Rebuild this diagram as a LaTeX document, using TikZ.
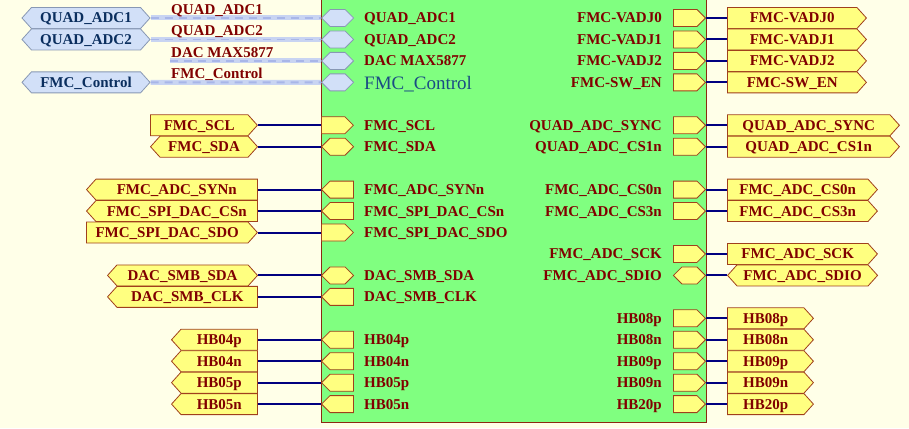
\documentclass[tikz,border=0pt]{standalone}
\usepackage{fontspec}
\setmainfont{Liberation Serif}
\usetikzlibrary{shapes.symbols}
\definecolor{bg}{HTML}{FFFFE8}
\definecolor{blockgreen}{HTML}{80FF80}
\definecolor{blockedge}{HTML}{8B2A10}
\definecolor{portfill}{HTML}{FFFF80}
\definecolor{portedge}{HTML}{A0401C}
\definecolor{txtred}{HTML}{800000}
\definecolor{wireblue}{HTML}{000080}
\definecolor{busfill}{HTML}{D2E0F8}
\definecolor{busedge}{HTML}{8898B4}
\definecolor{bustext}{HTML}{0A2E5E}
\definecolor{busAc}{HTML}{C8D4F2}
\definecolor{busBc}{HTML}{A8B6E8}
\definecolor{ctrlblue}{HTML}{1A4C84}
\tikzset{
  lbl/.style={font=\bfseries\fontsize{15}{15}\selectfont, text=txtred, inner sep=0pt},
  portbase/.style={shape=signal, draw=portedge, fill=portfill, line width=0.8pt,
    inner sep=0pt, minimum height=21pt, signal pointer angle=96, lbl,
    text height=10pt, text depth=0pt},
  portE/.style={portbase, signal to=east},
  portW/.style={portbase, signal to=west},
  portH/.style={portbase, signal to=east and west},
  tabbase/.style={shape=signal, draw=portedge, fill=portfill, line width=0.8pt,
    inner sep=0pt, minimum height=17pt, minimum width=32pt, signal pointer angle=90},
  tabE/.style={tabbase, signal to=east},
  tabW/.style={tabbase, signal to=west},
  tabH/.style={tabbase, signal to=east and west},
  busport/.style={shape=signal, signal to=east and west, draw=busedge, fill=busfill,
    line width=0.8pt, inner sep=0pt, minimum height=21pt, minimum width=128pt,
    signal pointer angle=96, font=\bfseries\fontsize{15}{15}\selectfont, text=bustext,
    text height=10pt, text depth=0pt},
  bustab/.style={shape=signal, signal to=east and west, draw=busedge, fill=busfill,
    line width=0.8pt, inner sep=0pt, minimum height=17pt, minimum width=32pt,
    signal pointer angle=90},
  wire/.style={draw=wireblue, line width=2pt},
  busA/.style={draw=busAc, line width=5pt},
  busB/.style={draw=busBc, line width=1.8pt, dash pattern=on 8pt off 6pt},
}
\newcommand\lrow[6]{%
  \node[#3, minimum width={257-#4}, anchor=west] (p#1) at (#4,{18+21.45*#2}) {#6};
  \node[#5, anchor=west] (t#1) at (321,{18+21.45*#2}) {};
  \draw[wire] (p#1.east) -- (t#1.west);
  \node[lbl, anchor=base west] (l#1) at (364,{23+21.45*#2}) {#6};
}
\newcommand\rrow[6]{%
  \node[#3, anchor=east] (t#1) at (706,{18+21.45*#2}) {};
  \node[#4, minimum width={#5-727}, anchor=west] (p#1) at (727,{18+21.45*#2}) {#6};
  \draw[wire] (t#1.east) -- (p#1.west);
  \node[lbl, anchor=base east] (l#1) at (662,{23+21.45*#2}) {#6};
}
\newcommand\busrow[4]{%
  \node[bustab, anchor=west] (t#1) at (321,{18+21.45*#2}) {};
  \draw[busA] (#3) -- (t#1.west);
  \draw[busB] (#3) -- (t#1.west);
  \node[lbl, anchor=base west] (bl#1) at (171,{14.5+21.45*#2}) {#4};
}
\begin{document}
\begin{tikzpicture}[x=1pt, y=-1pt]
  \useasboundingbox (0,0) rectangle (909,428);
  \clip (0,0) rectangle (909,428);
  \fill[bg] (0,0) rectangle (909,428);
  % block
  \node[draw=blockedge, fill=blockgreen, line width=1.4pt, inner sep=0pt,
        minimum width=385pt, minimum height=440pt, anchor=south west] (blk) at (321,423) {};
  % bus ports
  \node[busport] (bp0) at (86,18) {QUAD\_ADC1};
  \node[busport] (bp1) at (86,39.45) {QUAD\_ADC2};
  \coordinate (dacstart) at (170,60.9);
  \node[busport] (bp3) at (86,82.35) {FMC\_Control};
  \busrow{b0}{0}{bp0.east}{QUAD\_ADC1}
  \busrow{b1}{1}{bp1.east}{QUAD\_ADC2}
  \busrow{b2}{2}{dacstart}{DAC MAX5877}
  \busrow{b3}{3}{bp3.east}{FMC\_Control}
  \node[lbl, anchor=base west] (lb0) at (364,23) {QUAD\_ADC1};
  \node[lbl, anchor=base west] (lb1) at (364,44.45) {QUAD\_ADC2};
  \node[lbl, anchor=base west] (lb2) at (364,65.9) {DAC MAX5877};
  \node[anchor=base west, inner sep=0pt, font=\fontsize{19}{19}\selectfont, text=ctrlblue] (lb3) at (364,89) {FMC\_Control};
  % left rows
  \lrow{scl}{5}{portE}{150}{tabE}{FMC\_SCL}
  \lrow{sda}{6}{portH}{150}{tabH}{FMC\_SDA}
  \lrow{syn}{8}{portW}{86}{tabW}{FMC\_ADC\_SYNn}
  \lrow{csn}{9}{portW}{86}{tabW}{FMC\_SPI\_DAC\_CSn}
  \lrow{sdo}{10}{portE}{86}{tabE}{FMC\_SPI\_DAC\_SDO}
  \lrow{smbsda}{12}{portH}{107}{tabH}{DAC\_SMB\_SDA}
  \lrow{smbclk}{13}{portW}{107}{tabW}{DAC\_SMB\_CLK}
  \lrow{hbfourp}{15}{portW}{171}{tabW}{HB04p}
  \lrow{hbfourn}{16}{portW}{171}{tabW}{HB04n}
  \lrow{hbfivep}{17}{portW}{171}{tabW}{HB05p}
  \lrow{hbfiven}{18}{portW}{171}{tabW}{HB05n}
  % right rows
  \rrow{vz}{0}{tabE}{portE}{866}{FMC-VADJ0}
  \rrow{vo}{1}{tabE}{portE}{866}{FMC-VADJ1}
  \rrow{vt}{2}{tabE}{portE}{866}{FMC-VADJ2}
  \rrow{sw}{3}{tabE}{portE}{866}{FMC-SW\_EN}
  \rrow{sync}{5}{tabE}{portE}{899}{QUAD\_ADC\_SYNC}
  \rrow{csone}{6}{tabE}{portE}{899}{QUAD\_ADC\_CS1n}
  \rrow{cszero}{8}{tabE}{portE}{877}{FMC\_ADC\_CS0n}
  \rrow{csthree}{9}{tabE}{portE}{877}{FMC\_ADC\_CS3n}
  \rrow{sck}{11}{tabE}{portE}{877}{FMC\_ADC\_SCK}
  \rrow{sdio}{12}{tabH}{portH}{877}{FMC\_ADC\_SDIO}
  \rrow{hbep}{14}{tabE}{portE}{813}{HB08p}
  \rrow{hben}{15}{tabE}{portE}{813}{HB08n}
  \rrow{hbnp}{16}{tabE}{portE}{813}{HB09p}
  \rrow{hbnn}{17}{tabE}{portE}{813}{HB09n}
  \rrow{hbtp}{18}{tabE}{portE}{813}{HB20p}
\end{tikzpicture}
\end{document}
